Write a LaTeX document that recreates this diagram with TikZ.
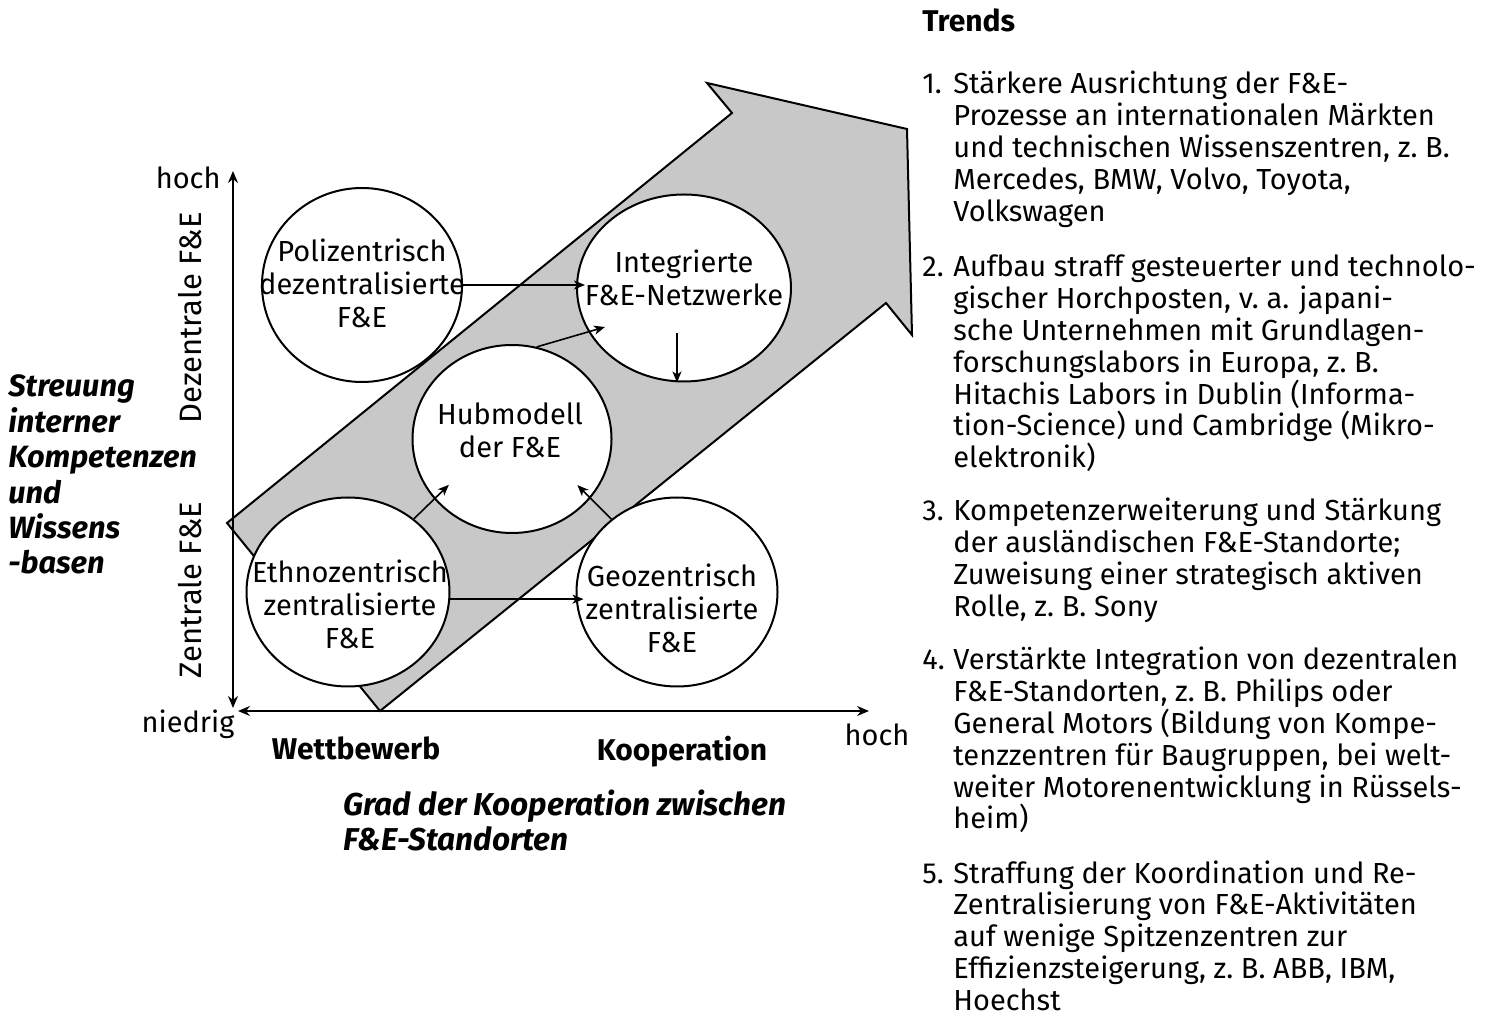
\documentclass[tikz,border=0pt]{standalone}
\usepackage{fontspec}
\setmainfont{Fira Sans}
\usetikzlibrary{shapes.geometric,arrows.meta,calc}
\definecolor{arrowgray}{RGB}{200,200,200}
\newcommand\fixedlines[2]{\begin{minipage}[t]{#1}\raggedright\lineskiplimit=-100pt\relax #2\end{minipage}}
\newcommand\trenditem[2]{\begin{minipage}[t]{300pt}\raggedright\let\\\newline\lineskiplimit=-100pt\relax\hangindent=15.5pt\hangafter=1\noindent\makebox[15.5pt][l]{#1}#2\end{minipage}}
\begin{document}
\begin{tikzpicture}[x=0.5pt,y=-0.5pt,
  bigarrow/.style={draw=black, line width=1pt, fill=arrowgray, line join=miter},
  circ/.style={ellipse, draw=black, line width=1pt, fill=white, inner sep=0pt},
  ctext/.style={align=center, inner sep=0pt, font=\fontsize{14.5}{16.5}\selectfont},
  conn/.style={-{Stealth[length=5.5pt,width=4.5pt,inset=1.5pt]}, line width=0.8pt},
  axis/.style={{Stealth[length=6pt,width=5pt,inset=2pt]}-{Stealth[length=6pt,width=5pt,inset=2pt]}, line width=0.9pt},
  lbl/.style={inner sep=0pt, font=\fontsize{14.5}{16}\selectfont},
  boldlbl/.style={inner sep=0pt, font=\fontsize{15}{16}\selectfont\bfseries},
  sidelbl/.style={inner sep=0pt, font=\fontsize{15.5}{17}\selectfont, rotate=90},
  multi/.style={inner sep=0pt, anchor=base west},
  trend/.style={inner sep=0pt, anchor=base west, font=\fontsize{14.5}{15.9}\selectfont}
]
\useasboundingbox (0,0) rectangle (1488,1020);
\fill[white] (0,0) rectangle (1488,1020);

% big diagonal arrow
\draw[bigarrow] (227,523) -- (732,113) -- (707,83) -- (907,129) -- (912,335) -- (886,303) -- (380,711) -- cycle;

% axes
\coordinate (ytop) at (233,171);
\coordinate (ybot) at (233,708);
\coordinate (xleft) at (238,711);
\coordinate (xright) at (869,711);
\draw[axis] (ybot) -- (ytop);
\draw[axis] (xleft) -- (xright);

% circles
\node[circ, minimum width=100pt, minimum height=97pt] (poli) at (362,285) {};
\node[circ, minimum width=107pt, minimum height=93.5pt] (integ) at (684,288) {};
\node[circ, minimum width=99.5pt, minimum height=94pt] (hub) at (512,439) {};
\node[circ, minimum width=101.5pt, minimum height=94.5pt] (ethno) at (348,592) {};
\node[circ, minimum width=100.5pt, minimum height=94.5pt] (geo) at (677,592) {};

\node[ctext] (polit) at (362,283) {Polizentrisch\\dezentralisierte\\F\&E};
\node[ctext] (integt) at (684,278) {Integrierte\\F\&E-Netzwerke};
\node[ctext] (hubt) at (510,430) {Hubmodell\\der F\&E};
\node[ctext] (ethnot) at (350,604) {Ethnozentrisch\\zentralisierte\\F\&E};
\node[ctext] (geot) at (672,608) {Geozentrisch\\zentralisierte\\F\&E};

% connectors
\draw[conn] (poli.east) -- ($(poli.east -| integ.west)+(9,0)$);
\draw[conn] (hub.75) -- ($(integ.center)+(-79,39)$);
\draw[conn] ($(integ.south)+(-7,-49)$) -- ($(integ.south)+(-7,0)$);
\draw[conn] (ethno.48) -- ++(35,-34);
\draw[conn] (geo.132) -- ++(-34,-34);
\draw[conn] (ethno.-4) -- ($(ethno.-4 -| geo.west)+(8,0)$);

% axis labels
\node[lbl, anchor=east] (hochy) at (221,178) {hoch};
\node[lbl] (niedrig) at (188,724) {niedrig};
\node[lbl] (hochx) at (877,735) {hoch};
\node[sidelbl] (dez) at (190,318) {Dezentrale F\&E};
\node[sidelbl] (zen) at (190,590) {Zentrale F\&E};
\node[boldlbl] (wett) at (356,748) {Wettbewerb};
\node[boldlbl] (koop) at (682,752) {Kooperation};

\node[multi, font=\fontsize{15.4}{17.7}\selectfont\bfseries\itshape] (streu) at (8,397)
  {\fixedlines{120pt}{Streuung\\interner\\Kompetenzen\\und\\Wissens\\-basen}};
\node[multi, font=\fontsize{15.8}{17.5}\selectfont\bfseries\itshape] (grad) at (343,815)
  {\fixedlines{280pt}{Grad der Kooperation zwischen\\F\&E-Standorten}};

% trends
\node[boldlbl, anchor=west] (trends) at (922,20) {Trends};
\node[trend] (t1) at (922,94) {\trenditem{1.}{Stärkere Ausrichtung der F\&E-\\Prozesse an internationalen Märkten\\und technischen Wissenszentren, z.~B.\\Mercedes, BMW, Volvo, Toyota,\\Volkswagen}};
\node[trend] (t2) at (922,277) {\trenditem{2.}{Aufbau straff gesteuerter und technolo-\\gischer Horchposten, v.~a. japani-\\sche Unternehmen mit Grundlagen-\\forschungslabors in Europa, z.~B.\\Hitachis Labors in Dublin (Informa-\\tion-Science) und Cambridge (Mikro-\\elektronik)}};
\node[trend] (t3) at (922,521) {\trenditem{3.}{Kompetenzerweiterung und Stärkung\\der ausländischen F\&E-Standorte;\\Zuweisung einer strategisch aktiven\\Rolle, z.~B. Sony}};
\node[trend] (t4) at (922,670) {\trenditem{4.}{Verstärkte Integration von dezentralen\\F\&E-Standorten, z.~B. Philips oder\\General Motors (Bildung von Kompe-\\tenzzentren für Baugruppen, bei welt-\\weiter Motorenentwicklung in Rüssels-\\heim)}};
\node[trend] (t5) at (922,883) {\trenditem{5.}{Straffung der Koordination und Re-\\Zentralisierung von F\&E-Aktivitäten\\auf wenige Spitzenzentren zur\\Effizienzsteigerung, z.~B. ABB, IBM,\\Hoechst}};
\end{tikzpicture}
\end{document}
